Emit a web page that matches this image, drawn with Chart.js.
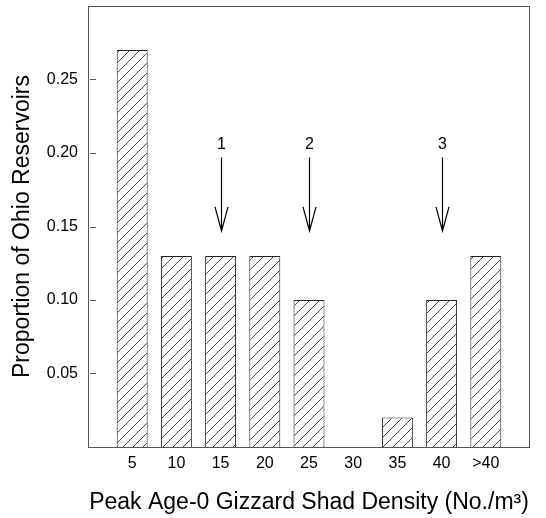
<!DOCTYPE html>
<html>
<head>
<meta charset="utf-8">
<script src="https://cdn.jsdelivr.net/npm/chart.js@4.4.1/dist/chart.umd.min.js"></script>
<style>
  html, body { margin: 0; padding: 0; background: #fff; }
  #wrap { width: 546px; height: 518px; }
</style>
</head>
<body>
<div id="wrap"><canvas id="shadChart" width="546" height="518"></canvas></div>
<script>
// density classes (blank slots at each end keep the axis spacing)
const densityLabels = ['', '5', '10', '15', '20', '25', '30', '35', '40', '>40', ''];
const proportions = [null, 0.27, 0.13, 0.13, 0.13, 0.10, 0, 0.02, 0.10, 0.13, null];
const yTicks = [0.05, 0.10, 0.15, 0.20, 0.25];
// arrows over the plot
const arrowAt = ['15', '25', '40'];
const arrowText = ['1', '2', '3'];
const arrowFrom = 0.197;
const arrowTo = 0.147;
const arrowLabelY = 0.206;

const FONT = '"Liberation Sans", Arial, sans-serif';
const ctx = document.getElementById('shadChart').getContext('2d');

// diagonal hatch
const tile = document.createElement('canvas');
tile.width = 10; tile.height = 10;
const t = tile.getContext('2d');
t.fillStyle = '#fff';
t.fillRect(0, 0, 10, 10);
t.strokeStyle = '#333';
t.lineWidth = 0.9;
t.beginPath();
t.moveTo(0, 10); t.lineTo(10, 0);
t.moveTo(-1, 1); t.lineTo(1, -1);
t.moveTo(9, 11); t.lineTo(11, 9);
t.stroke();
const hatch = ctx.createPattern(tile, 'repeat');

const framePlugin = {
    id: 'frame',
    afterDatasetsDraw(chart) {
        const c = chart.ctx;
        const a = chart.chartArea;
        const y = chart.scales.y;
        c.save();
        c.strokeStyle = '#555';
        c.lineWidth = 1;
        c.strokeRect(a.left + 0.5, a.top + 0.5, a.right - a.left - 1, a.bottom - a.top);
        // short inward ticks on the left
        c.beginPath();
        yTicks.forEach(v => {
            const py = Math.round(y.getPixelForValue(v)) + 0.5;
            c.moveTo(a.left + 2, py);
            c.lineTo(a.left + 8, py);
        });
        c.stroke();
        c.restore();
    }
};

const arrowPlugin = {
    id: 'arrows',
    afterDatasetsDraw(chart) {
        const c = chart.ctx;
        const x = chart.scales.x;
        const y = chart.scales.y;
        c.save();
        c.strokeStyle = '#000';
        c.fillStyle = '#000';
        c.lineWidth = 1.2;
        c.font = '16px ' + FONT;
        c.textAlign = 'center';
        c.textBaseline = 'middle';
        arrowAt.forEach((cat, i) => {
            const px = Math.round(x.getPixelForValue(densityLabels.indexOf(cat))) + 0.5;
            const top = y.getPixelForValue(arrowFrom);
            const tip = y.getPixelForValue(arrowTo);
            c.beginPath();
            c.moveTo(px, top);
            c.lineTo(px, tip);
            c.moveTo(px - 6.5, tip - 24);
            c.lineTo(px, tip);
            c.lineTo(px + 6.5, tip - 24);
            c.stroke();
            c.fillText(arrowText[i], px, y.getPixelForValue(arrowLabelY));
        });
        c.restore();
    }
};

const shadChart = new Chart(ctx, {
    type: 'bar',
    data: {
        labels: densityLabels,
        datasets: [{
            label: 'proportion',
            data: proportions,
            backgroundColor: hatch,
            borderColor: '#222',
            borderWidth: 1,
            categoryPercentage: 1,
            barPercentage: 0.7
        }]
    },
    options: {
        responsive: false,
        animation: false,
        layout: { padding: { top: 6, right: 16, left: 0, bottom: 0 } },
        plugins: {
            legend: { display: false },
            tooltip: { enabled: false }
        },
        scales: {
            x: {
                offset: false,
                grid: { display: false, drawTicks: false },
                border: { display: false },
                ticks: {
                    autoSkip: false,
                    maxRotation: 0,
                    padding: 7,
                    color: '#000',
                    font: { family: FONT, size: 16 }
                },
                title: {
                    display: true,
                    text: 'Peak Age-0 Gizzard Shad Density (No./m³)',
                    color: '#000',
                    padding: { top: 0, bottom: 2 },
                    font: { family: FONT, size: 23 }
                },
                afterFit(scale) { scale.height = 71; }
            },
            y: {
                min: 0,
                max: 0.30,
                grid: { display: false, drawTicks: false },
                border: { display: false },
                afterBuildTicks(scale) {
                    scale.ticks = yTicks.map(v => ({ value: v }));
                },
                ticks: {
                    padding: 10,
                    color: '#000',
                    font: { family: FONT, size: 16 },
                    callback: v => v.toFixed(2)
                },
                title: {
                    display: true,
                    text: 'Proportion of Ohio Reservoirs',
                    color: '#000',
                    padding: { top: 9, bottom: 0 },
                    font: { family: FONT, size: 23 }
                },
                afterFit(scale) {
                    scale.width = 88;
                    scale.paddingTop = 0;
                    scale.paddingBottom = 0;
                }
            }
        }
    },
    plugins: [framePlugin, arrowPlugin]
});
</script>
</body>
</html>
